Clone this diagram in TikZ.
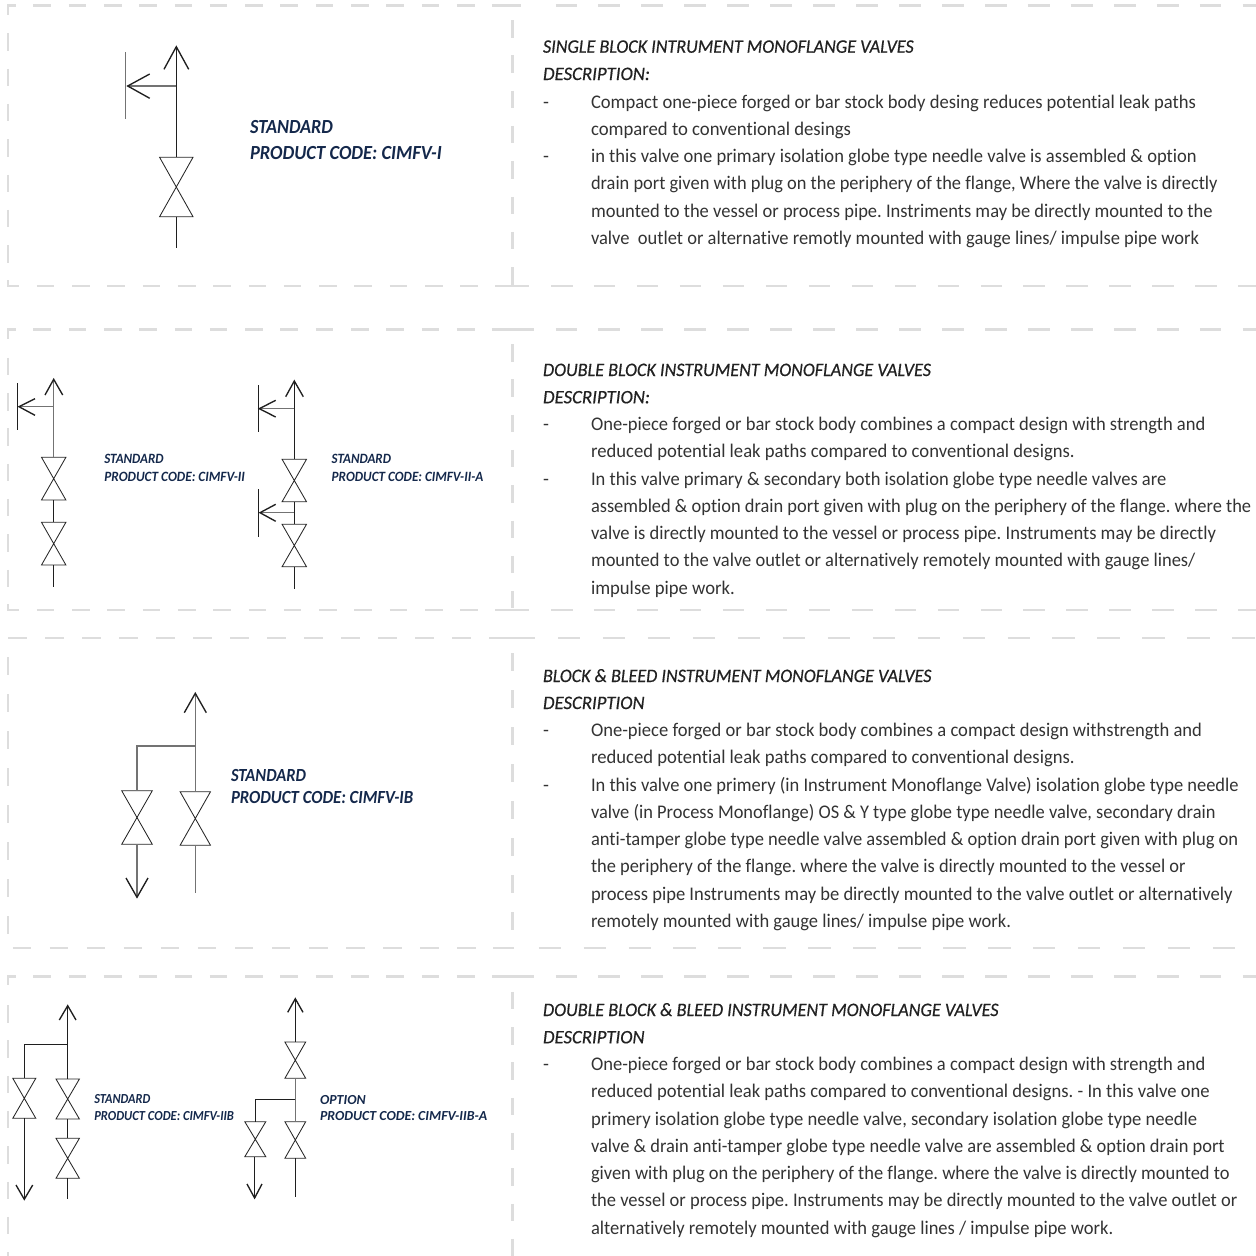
\documentclass[tikz,border=0pt]{standalone}
\usepackage{fontspec}
\usepackage{graphicx}
\usetikzlibrary{arrows.meta}
\setmainfont[Ligatures={NoCommon,NoRequired,NoContextual}]{Carlito}
\newfontface\semi[Ligatures={NoCommon,NoRequired,NoContextual}]{Carlito Bold Italic}
\newfontface\medi[Ligatures={NoCommon,NoRequired,NoContextual},FakeBold=0.5]{Carlito Italic}
\frenchspacing
\definecolor{navy}{HTML}{14284B}
\definecolor{bodyc}{HTML}{333333}
\definecolor{titlec}{HTML}{222222}
\definecolor{dashc}{HTML}{DDDDDD}
\newcommand{\tline}[6]{\node[anchor=base west,inner sep=0pt,outer sep=0pt] (#1) at (#2,#3) {\resizebox{\dimexpr #4pt-#2pt\relax}{\height}{#5#6}};}
\newcommand{\fbody}{\color{bodyc}\fontsize{19.3}{22}\selectfont}
\newcommand{\ftitle}{\color{titlec}\medi\fontsize{19}{22}\selectfont}
\newcommand{\flabA}{\color{navy}\semi\fontsize{20}{22}\selectfont}
\newcommand{\flabB}{\color{navy}\semi\fontsize{14.2}{22}\selectfont}
\newcommand{\flabC}{\color{navy}\semi\fontsize{18.5}{22}\selectfont}
\newcommand{\flabD}{\color{navy}\semi\fontsize{13.8}{22}\selectfont}
% x-y-dashed runs
\newcommand{\hrun}[5]{\draw[dashrule,dash pattern=on #4pt off #5pt-#4pt] (#2,#1) -- (#3,#1);}
\newcommand{\vrun}[5]{\draw[dashrule,dash pattern=on #4pt off #5pt-#4pt] (#1,#2) -- (#1,#3);}
% valve: name, x, top, bottom, half width
\newcommand{\valve}[5]{%
  \coordinate (#1-t) at (#2,#3);\coordinate (#1-b) at (#2,#4);
  \draw[valveline] (#2-#5,#3) -- (#2+#5,#3) -- (#2-#5,#4) -- (#2+#5,#4) -- cycle;}
\tikzset{
  dashrule/.style={draw=dashc,line width=2.6pt},
  pipe/.style={draw=black!88,line width=1pt},
  branch/.style={draw=black!55,line width=1.2pt},
  valveline/.style={draw=black!85,line width=.85pt,line join=miter},
}
\newcommand{\arrowarms}[5]{\draw[draw=black!88,line width=1.35pt,line join=miter] (#2,#3) -- (#1) -- (#4,#5);}
\begin{document}
\begin{tikzpicture}[x=1pt,y=-1pt]
\useasboundingbox (0,0) rectangle (1256,1256);
% --- dashed frames ---
% panel 1
\draw[dashrule] (15.7,5.5) -- (8,5.5) -- (8,15);
\hrun{5.5}{33.3}{510}{17.65}{35.3}
\hrun{5.5}{491.7}{521}{29.3}{60}
\hrun{5.5}{555.5}{1256}{21.7}{42.95}
\vrun{8}{33.3}{263}{17.5}{35.3}
\draw[dashrule] (8,280) -- (8,286) -- (19,286);
\hrun{286}{36.7}{495}{17.65}{35.3}
\hrun{286}{495}{529.4}{34.4}{60}
\hrun{286}{551}{1256}{21.5}{42.95}
\vrun{512.6}{20}{286}{17.5}{35.3}
% panel 2
\draw[dashrule] (15.7,329.3) -- (8,329.3) -- (8,339);
\hrun{329.3}{33.3}{510}{17.65}{35.3}
\hrun{329.3}{491.7}{534}{42.3}{60}
\hrun{329.3}{555.5}{1256}{21.7}{42.95}
\vrun{8}{357.7}{588}{17.5}{35.3}
\draw[dashrule] (8,604) -- (8,610) -- (19,610);
\hrun{610}{36.7}{495}{17.65}{35.3}
\hrun{610}{495}{529.4}{34.4}{60}
\hrun{610}{551}{1256}{21.5}{42.95}
\vrun{512.6}{344}{608}{17.5}{35.3}
% panel 3
\hrun{638}{8.3}{500}{18.4}{37}
\hrun{638}{500}{535}{35}{60}
\hrun{638}{558}{1256}{22.4}{44.95}
\vrun{8}{657.3}{935}{17.5}{37}
\hrun{948}{12.7}{495}{18.4}{37.05}
\hrun{948}{493}{514}{21}{60}
\hrun{948}{538.6}{1237}{22.4}{44.95}
\vrun{512.6}{653.3}{932}{18}{37}
% panel 4
\draw[dashrule] (15.7,976.7) -- (8,976.7) -- (8,985);
\hrun{976.7}{33.3}{510}{17.65}{35.3}
\hrun{976.7}{491.7}{534}{42.3}{60}
\hrun{976.7}{555.5}{1256}{21.7}{42.95}
\vrun{8}{1005}{1257}{17.5}{35.3}
\vrun{512.6}{991.7}{1257}{17.5}{35.3}
\draw[draw=black!4,line width=1pt,dash pattern=on 21.5pt off 21.45pt] (520,1256) -- (1256,1256);
% --- panel 1 symbol ---
\valve{a}{176.3}{157.3}{216.7}{16.7}
\coordinate (a-tip) at (176.3,46.7);
\coordinate (a-end) at (176.3,248.3);
\coordinate (a-j) at (176.3,86);
\coordinate (a-btip) at (127.7,86);
\draw[pipe] (a-tip) -- (a-t);
\draw[pipe] (a-b) -- (a-end);
\draw[branch] (a-j) -- (a-btip);
\arrowarms{a-tip}{164}{69.3}{188.7}{69.3}
\arrowarms{a-btip}{149.7}{74}{149.7}{98.3}
\draw[branch] (125.7,52.3) -- (125.7,119.3);
\tline{la1}{250}{133.3}{333}{\flabA}{STANDARD}
\tline{la2}{250}{159.3}{441.7}{\flabA}{PRODUCT CODE: CIMFV-I}
% --- panel 2 left symbol ---
\valve{b}{53.7}{457.3}{500}{12.2}
\valve{c}{53.7}{522.3}{565}{12.2}
\coordinate (b-tip) at (53.7,379.3);
\coordinate (c-end) at (53.7,587.3);
\coordinate (b-j) at (53.7,406.7);
\coordinate (b-btip) at (19,406.7);
\draw[branch] (b-tip) -- (b-t);
\draw[pipe] (b-b) -- (c-t);
\draw[pipe] (c-b) -- (c-end);
\draw[branch] (b-j) -- (b-btip);
\arrowarms{b-tip}{45}{395}{62.7}{395}
\arrowarms{b-btip}{35}{398.7}{35}{415.3}
\draw[pipe] (17.7,383.3) -- (17.7,430);
\tline{lb1}{104.3}{463.3}{163.7}{\flabB}{STANDARD}
\tline{lb2}{104.3}{481.3}{245}{\flabB}{PRODUCT CODE: CIMFV-II}
% --- panel 2 right symbol ---
\valve{d}{294.3}{459.3}{501.7}{12.2}
\valve{e}{294.3}{524.3}{566.7}{12.2}
\coordinate (d-tip) at (294.3,381);
\coordinate (e-end) at (294.3,588.7);
\coordinate (d-j) at (294.3,408.7);
\coordinate (d-btip) at (259.3,408.7);
\coordinate (e-j) at (294.3,512.7);
\coordinate (e-btip) at (260,512.7);
\draw[pipe] (d-tip) -- (d-t);
\draw[pipe] (d-b) -- (e-t);
\draw[pipe] (e-b) -- (e-end);
\draw[branch] (d-j) -- (d-btip);
\draw[branch] (e-j) -- (e-btip);
\arrowarms{d-tip}{285.7}{396.7}{303.3}{396.7}
\arrowarms{d-btip}{275.7}{400.3}{275.7}{417}
\arrowarms{e-btip}{275.7}{504.3}{275.7}{521.3}
\draw[pipe] (258.3,385) -- (258.3,432.3);
\draw[pipe] (258.3,489.3) -- (258.3,536.7);
\tline{lc1}{331.7}{463.3}{391}{\flabB}{STANDARD}
\tline{lc2}{331.7}{481.3}{483.3}{\flabB}{PRODUCT CODE: CIMFV-II-A}
% --- panel 3 symbol ---
\valve{f}{195.3}{791.7}{845.3}{15.2}
\valve{g}{137}{790.7}{844.3}{15.3}
\coordinate (f-tip) at (195.3,693.3);
\coordinate (f-end) at (195.3,893.3);
\coordinate (f-j) at (195.3,746);
\coordinate (g-j) at (137,746);
\coordinate (g-tip) at (137,897.3);
\draw[branch] (f-tip) -- (f-t);
\draw[branch] (f-b) -- (f-end);
\draw[branch] (f-j) -- (g-j) -- (g-t);
\draw[branch] (g-b) -- (g-tip);
\arrowarms{f-tip}{184.3}{712.7}{206.3}{712.7}
\arrowarms{g-tip}{126}{878}{148}{878}
\tline{ld1}{231}{781.7}{306}{\flabC}{STANDARD}
\tline{ld2}{231}{803.3}{413.3}{\flabC}{PRODUCT CODE: CIMFV-IB}
% --- panel 4 left symbol ---
\valve{h}{67.7}{1079}{1119}{11.7}
\valve{i}{67.7}{1138.3}{1178.3}{11.7}
\valve{k}{24.3}{1078.3}{1118.3}{11.5}
\coordinate (h-tip) at (67.7,1005.7);
\coordinate (i-end) at (67.7,1199.3);
\coordinate (h-j) at (67.7,1044.7);
\coordinate (k-j) at (24.3,1044.7);
\coordinate (k-tip) at (24.3,1199.3);
\draw[pipe] (h-tip) -- (h-t);
\draw[pipe] (h-b) -- (i-t);
\draw[pipe] (i-b) -- (i-end);
\draw[pipe] (h-j) -- (k-j) -- (k-t);
\draw[pipe] (k-b) -- (k-tip);
\arrowarms{h-tip}{59.3}{1020}{76}{1020}
\arrowarms{k-tip}{16}{1185}{32.7}{1185}
\tline{le1}{94.3}{1103.3}{150.3}{\flabD}{STANDARD}
\tline{le2}{94.3}{1120}{234}{\flabD}{PRODUCT CODE: CIMFV-IIB}
% --- panel 4 right symbol ---
\valve{m}{295.3}{1042}{1078.3}{10.4}
\valve{n}{295.3}{1121.7}{1158.3}{10.4}
\valve{p}{255.3}{1121.7}{1156.7}{10.5}
\coordinate (m-tip) at (295.3,998.7);
\coordinate (n-end) at (295.3,1197.3);
\coordinate (n-j) at (295.3,1099.7);
\coordinate (p-j) at (255.3,1099.7);
\coordinate (p-tip) at (254.6,1198);
\draw[pipe] (m-tip) -- (m-t);
\draw[branch] (m-b) -- (n-t);
\draw[pipe] (n-b) -- (n-end);
\draw[pipe] (n-j) -- (p-j) -- (p-t);
\draw[pipe] (p-tip |- p-b) -- (p-tip);
\arrowarms{m-tip}{287.7}{1012.3}{303}{1012.3}
\arrowarms{p-tip}{247}{1184}{262}{1184}
\tline{lf1}{320}{1104}{365.7}{\flabD}{OPTION}
\tline{lf2}{320}{1120.7}{487.3}{\flabD}{PRODUCT CODE: CIMFV-IIB-A}
% --- text panel 1 ---
\tline{t11}{543}{52.7}{913.7}{\ftitle}{SINGLE BLOCK INTRUMENT MONOFLANGE VALVES}
\tline{t12}{543}{80}{650}{\ftitle}{DESCRIPTION:}
\node[anchor=base west,inner sep=0pt] (d11) at (543,108.3) {\fbody -};
\tline{t13}{591}{108.3}{1195.8}{\fbody}{Compact one-piece forged or bar stock body desing reduces potential leak paths}
\tline{t14}{591}{135}{851}{\fbody}{compared to conventional desings}
\node[anchor=base west,inner sep=0pt] (d12) at (543,162.3) {\fbody -};
\tline{t15}{591}{162.3}{1196.7}{\fbody}{in this valve one primary isolation globe type needle valve is assembled \& option}
\tline{t16}{591}{189.3}{1217.5}{\fbody}{drain port given with plug on the periphery of the flange, Where the valve is directly}
\tline{t17}{591}{217.3}{1212.6}{\fbody}{mounted to the vessel or process pipe. Instriments may be directly mounted to the}
\tline{t18}{591}{244.3}{1199}{\fbody}{valve\ \ outlet or alternative remotly mounted with gauge lines/ impulse pipe work}
% --- text panel 2 ---
\tline{t21}{543}{376}{931}{\ftitle}{DOUBLE BLOCK INSTRUMENT MONOFLANGE VALVES}
\tline{t22}{543}{403.3}{650}{\ftitle}{DESCRIPTION:}
\node[anchor=base west,inner sep=0pt] (d21) at (543,430.3) {\fbody -};
\tline{t23}{591}{430.3}{1205.4}{\fbody}{One-piece forged or bar stock body combines a compact design with strength and}
\tline{t24}{591}{457.3}{1074.7}{\fbody}{reduced potential leak paths compared to conventional designs.}
\node[anchor=base west,inner sep=0pt] (d22) at (543,485.3) {\fbody -};
\tline{t25}{591}{485.3}{1166.3}{\fbody}{In this valve primary \& secondary both isolation globe type needle valves are}
\tline{t26}{591}{512}{1251.2}{\fbody}{assembled \& option drain port given with plug on the periphery of the flange. where the}
\tline{t27}{591}{539}{1216}{\fbody}{valve is directly mounted to the vessel or process pipe. Instruments may be directly}
\tline{t28}{591}{566}{1195.3}{\fbody}{mounted to the valve outlet or alternatively remotely mounted with gauge lines/}
\tline{t29}{591}{594.3}{734.8}{\fbody}{impulse pipe work.}
% --- text panel 3 ---
\tline{t31}{543}{682}{931.5}{\ftitle}{BLOCK \& BLEED INSTRUMENT MONOFLANGE VALVES}
\tline{t32}{543}{709}{644.6}{\ftitle}{DESCRIPTION}
\node[anchor=base west,inner sep=0pt] (d31) at (543,736) {\fbody -};
\tline{t33}{591}{736}{1202}{\fbody}{One-piece forged or bar stock body combines a compact design withstrength and}
\tline{t34}{591}{763.3}{1074.7}{\fbody}{reduced potential leak paths compared to conventional designs.}
\node[anchor=base west,inner sep=0pt] (d32) at (543,791.3) {\fbody -};
\tline{t35}{591}{791.3}{1238.7}{\fbody}{In this valve one primery (in Instrument Monoflange Valve) isolation globe type needle}
\tline{t36}{591}{818.3}{1215.5}{\fbody}{valve (in Process Monoflange) OS \& Y type globe type needle valve, secondary drain}
\tline{t37}{591}{845.3}{1238.2}{\fbody}{anti-tamper globe type needle valve assembled \& option drain port given with plug on}
\tline{t38}{591}{872.3}{1185.6}{\fbody}{the periphery of the flange. where the valve is directly mounted to the vessel or}
\tline{t39}{591}{900}{1232.4}{\fbody}{process pipe Instruments may be directly mounted to the valve outlet or alternatively}
\tline{t3a}{591}{927}{1011}{\fbody}{remotely mounted with gauge lines/ impulse pipe work.}
% --- text panel 4 ---
\tline{t41}{543}{1016}{998.6}{\ftitle}{DOUBLE BLOCK \& BLEED INSTRUMENT MONOFLANGE VALVES}
\tline{t42}{543}{1043.3}{644.6}{\ftitle}{DESCRIPTION}
\node[anchor=base west,inner sep=0pt] (d41) at (543,1070.3) {\fbody -};
\tline{t43}{591}{1070.3}{1205.4}{\fbody}{One-piece forged or bar stock body combines a compact design with strength and}
\tline{t44}{591}{1097.3}{1209.8}{\fbody}{reduced potential leak paths compared to conventional designs. - In this valve one}
\tline{t45}{591}{1125.3}{1197.2}{\fbody}{primery isolation globe type needle valve, secondary isolation globe type needle}
\tline{t46}{591}{1152.3}{1224.7}{\fbody}{valve \& drain anti-tamper globe type needle valve are assembled \& option drain port}
\tline{t47}{591}{1179.3}{1229.5}{\fbody}{given with plug on the periphery of the flange. where the valve is directly mounted to}
\tline{t48}{591}{1206.3}{1237.2}{\fbody}{the vessel or process pipe. Instruments may be directly mounted to the valve outlet or}
\tline{t49}{591}{1234.3}{1113.3}{\fbody}{alternatively remotely mounted with gauge lines / impulse pipe work.}
\end{tikzpicture}
\end{document}
